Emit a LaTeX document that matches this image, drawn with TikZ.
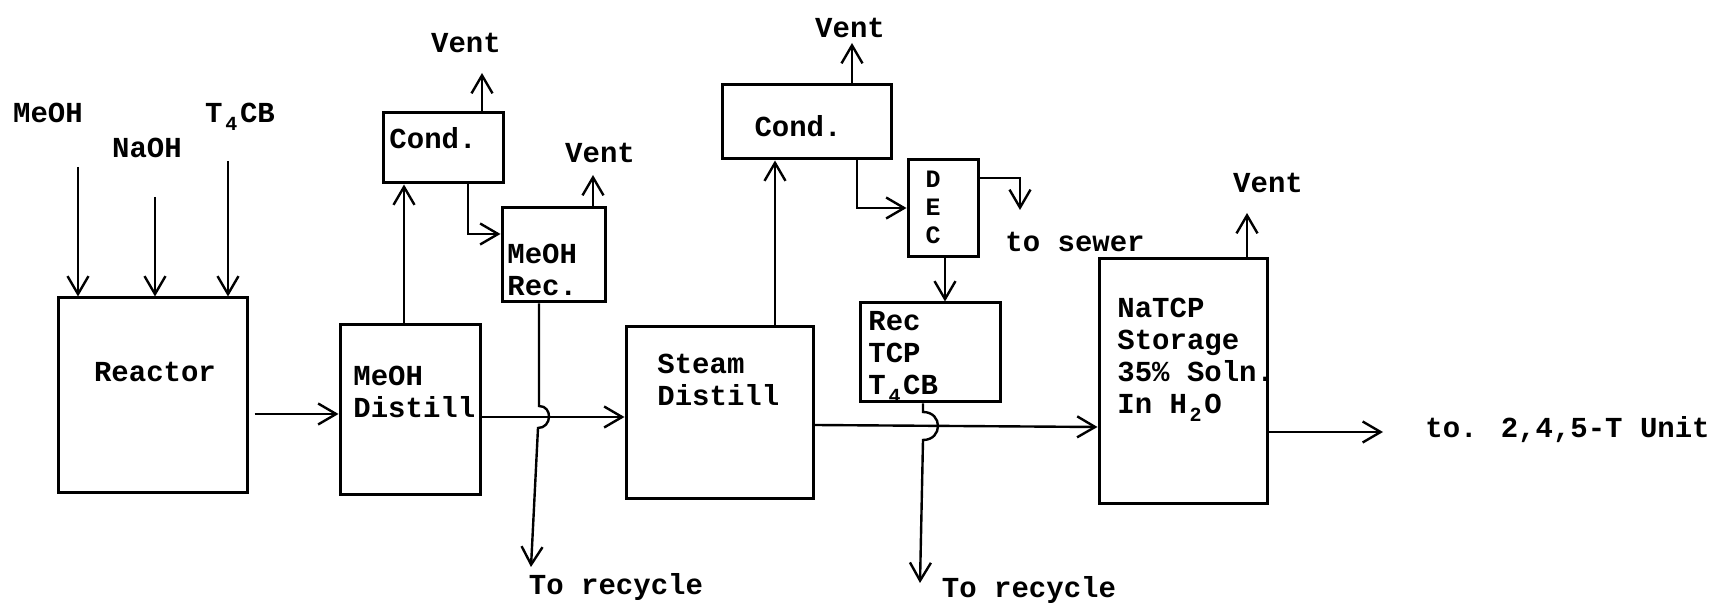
\documentclass[tikz,border=0pt]{standalone}
\usepackage{fontspec}
\setmainfont{Liberation Mono}
\usetikzlibrary{arrows.meta,fit}
\newcommand\subd[1]{\raisebox{-0.5ex}{\makebox[0.6em]{\fontsize{10}{10}\selectfont #1}}}
\begin{document}
\begin{tikzpicture}[x=0.5pt,y=-0.5pt,
  every node/.style={font=\fontsize{14.5}{16}\selectfont\bfseries},
  box/.style={draw, line width=1.5pt, inner sep=0pt},
  lbl/.style={inner sep=0pt},
  blk/.style={inner sep=0pt, anchor=north west, align=left},
  conn/.style={line width=1.2pt},
  arr/.style={conn, -{Straight Barb[length=9pt,width=10.5pt]}}]
\useasboundingbox (0,0) rectangle (1712,613);
% boxes
\node[box, fit={(58,298) (247,493)}] (reactor) {};
\node[box, fit={(340,325) (480,495)}] (mdist) {};
\node[box, fit={(383,113) (503,183)}] (cond1) {};
\node[box, fit={(502,208) (605,302)}] (mrec) {};
\node[box, fit={(626,327) (813,499)}] (sdist) {};
\node[box, fit={(722,85) (891,159)}] (cond2) {};
\node[box, fit={(908,160) (978,257)}] (dec) {};
\node[box, fit={(860,303) (1000,402)}] (rec) {};
\node[box, fit={(1099,259) (1267,504)}] (natcp) {};
% texts
\node[lbl] (tMeOH) at (48,113) {MeOH};
\node[lbl] (tNaOH) at (147,148) {NaOH};
\node[lbl] (tT4CB) at (240,117) {T\subd{4}CB};
\node[lbl] (treac) at (155,372) {Reactor};
\node[blk] (tmdist) at (353,366) {MeOH\\Distill};
\node[lbl] (tcond1) at (433,138) {Cond.};
\node[blk] (tmrec) at (507,244) {MeOH\\Rec.};
\node[blk] (tsdist) at (657,354) {Steam\\Distill};
\node[lbl] (tcond2) at (798,126) {Cond.};
\node[inner sep=0pt, anchor=north, align=center, font=\fontsize{12.5}{13.8}\selectfont\bfseries] (tdec) at (933,171) {D\\E\\C};
\node[blk] (trec) at (868,311) {Rec\\TCP\\T\subd{4}CB};
\node[blk] (tnatcp) at (1117,298) {NaTCP\\Storage\\35\% Soln.\\In H\subd{2}O};
\node[lbl] (vent1) at (466,43) {Vent};
\node[lbl] (vent2) at (600,153) {Vent};
\node[lbl] (vent3) at (850,28) {Vent};
\node[lbl] (vent4) at (1268,183) {Vent};
\node[lbl] (tsewer) at (1075,242) {to sewer};
\node[lbl] (trec1) at (616,587) {To recycle};
\node[lbl] (trec2) at (1029,590) {To recycle};
\node[lbl, anchor=west] (tunit) at (1425,430) {to. 2,4,5-T Unit};
% feeds
\coordinate (inA) at (78,167);
\coordinate (inB) at (155,197);
\coordinate (inC) at (228,161);
\draw[arr] (inA) -- (inA |- reactor.north);
\draw[arr] (inB) -- (inB |- reactor.north);
\draw[arr] (inC) -- (inC |- reactor.north);
% main flow
\draw[arr] ([xshift=3pt]reactor.east |- 0,414) -- (mdist.west |- 0,414);
\draw[arr] (mdist.north -| 404,0) -- (cond1.south -| 404,0);
\coordinate (v1) at (482,73);
\draw[arr] (cond1.north -| v1) -- (v1);
\draw[arr] (cond1.south -| 468,0) |- (mrec.west |- 0,234);
\coordinate (v2) at (593,175);
\draw[arr] (mrec.north -| v2) -- (v2);
\draw[arr] (mdist.east |- 0,417) -- (sdist.west |- 0,417);
\coordinate (j1a) at (539,406);
\coordinate (j1b) at (538,428);
\coordinate (r1) at (531,567);
\draw[arr] (mrec.south -| j1a) -- (j1a) .. controls +(14,0) and +(14,0) .. (j1b) -- (r1);
\draw[arr] (sdist.north -| 775,0) -- (cond2.south -| 775,0);
\coordinate (v3) at (852,43);
\draw[arr] (cond2.north -| v3) -- (v3);
\draw[arr] (cond2.south -| 857,0) |- (dec.west |- 0,208);
\coordinate (sw) at (1020,210);
\draw[arr] (dec.east |- 0,178) -| (sw);
\draw[arr] (dec.south -| 945,0) -- (rec.north -| 945,0);
\draw[arr] (sdist.east |- 0,425) -- (natcp.west |- 0,427);
\coordinate (j2a) at (923,412);
\coordinate (j2b) at (923,440);
\coordinate (r2) at (920,583);
\draw[arr] (rec.south -| j2a) -- (j2a) .. controls +(20,0) and +(20,0) .. (j2b) -- (r2);
\coordinate (v4) at (1247,213);
\draw[arr] (natcp.north -| v4) -- (v4);
\coordinate (out) at (1383,432);
\draw[arr] (natcp.east |- out) -- (out);
\end{tikzpicture}
\end{document}
